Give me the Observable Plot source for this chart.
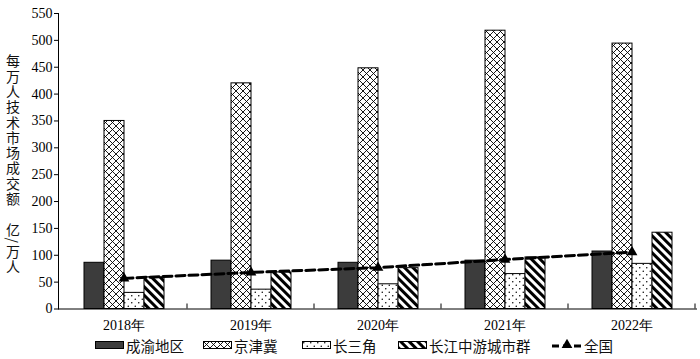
<!DOCTYPE html>
<html>
<head>
<meta charset="utf-8">
<script src="https://cdn.jsdelivr.net/npm/d3@7"></script>
<script src="https://cdn.jsdelivr.net/npm/@observablehq/plot@0.6"></script>
<style>
  html, body { margin: 0; padding: 0; background: white; }
  #wrap { position: relative; width: 700px; height: 359px; overflow: hidden; background: white; }
  #main, #over { position: absolute; left: 0; top: 0; }
  #ylabel { position: absolute; left: 5px; top: 54px; writing-mode: vertical-rl; font-family: "Noto Sans CJK SC"; font-size: 14px; letter-spacing: 1.3px; color: #111; line-height: 16px; }
  #legend { position: absolute; left: 0; top: 335px; width: 700px; height: 20px; font-family: "Noto Sans CJK SC"; font-size: 14.5px; color: #111; }
  .li { position: absolute; top: 0; height: 20px; display: flex; align-items: center; }
  .li svg { display: block; margin-right: 2px; }
</style>
</head>
<body>
<svg width="0" height="0" style="position:absolute">
  <defs>
    <pattern id="cross" width="7" height="7" patternUnits="userSpaceOnUse">
      <rect width="7" height="7" fill="white"/>
      <path d="M0,0L7,7M7,0L0,7" stroke="black" stroke-width="0.9"/>
    </pattern>
    <pattern id="dots" width="7" height="7" patternUnits="userSpaceOnUse">
      <rect width="7" height="7" fill="white"/>
      <circle cx="1.75" cy="1.75" r="0.75" fill="black"/>
      <circle cx="5.25" cy="5.25" r="0.75" fill="black"/>
    </pattern>
    <pattern id="hatch" width="6" height="6" patternUnits="userSpaceOnUse" patternTransform="rotate(-45)">
      <rect width="6" height="6" fill="white"/>
      <rect width="3" height="6" fill="black"/>
    </pattern>
  </defs>
</svg>
<div id="wrap">
  <div id="main"></div>
  <div id="over"></div>
  <div id="ylabel">每万人技术市场成交额　亿/万人</div>
  <div id="legend"></div>
</div>
<script>
const years = ["2018", "2019", "2020", "2021", "2022"];
const series = ["成渝地区", "京津冀", "长三角", "长江中游城市群"];
const chengyu = [86, 90, 86, 90, 107];
const jingjinji = [350, 420, 448, 518, 494];
const changsanjiao = [30, 36, 46, 65, 84];
const changjiang = [59, 68, 76, 96, 142];
const national = [57, 68, 77, 92, 106];
const nationalLabel = "全国";
const yTicks = [0, 50, 100, 150, 200, 250, 300, 350, 400, 450, 500, 550];
const fills = ["#3c3c3c", "url(#cross)", "url(#dots)", "url(#hatch)"];

const seriesValues = [chengyu, jingjinji, changsanjiao, changjiang];
const rows = [];
years.forEach((yr, i) => series.forEach((s, j) => rows.push({year: yr, series: s, value: seriesValues[j][i]})));
const nat = years.map((yr, i) => ({year: yr, value: national[i]}));

const W = 700, H = 335, mT = 13, mB = 26.5, mL = 58, mR = 3;

const main = Plot.plot({
  width: W, height: H, marginTop: mT, marginBottom: mB, marginLeft: mL, marginRight: mR,
  style: {background: "transparent"},
  fx: {domain: years, paddingInner: 0.36, paddingOuter: 0.18, axis: null, label: null},
  x: {domain: series, padding: 0, axis: null},
  y: {domain: [0, 550], axis: null},
  color: {domain: series, range: fills},
  marks: [
    Plot.barY(rows, {fx: "year", x: "series", y: "value", fill: "series", stroke: "black", strokeWidth: 1})
  ]
});
document.getElementById("main").appendChild(main);

const over = Plot.plot({
  width: W, height: H, marginTop: mT, marginBottom: mB, marginLeft: mL, marginRight: mR,
  style: {background: "transparent", fontFamily: "Liberation Serif", fontSize: "14px", color: "black"},
  x: {type: "band", domain: years, paddingInner: 0, paddingOuter: 0, tickSize: 0, tickPadding: 11, tickFormat: d => d + "年", label: null},
  y: {domain: [0, 550], ticks: yTicks, tickSize: 4, tickPadding: 2, label: null, line: true},
  marks: [
    Plot.ruleY([0], {stroke: "black", strokeWidth: 1}),
    Plot.line(nat, {x: "year", y: "value", stroke: "black", strokeWidth: 3, strokeDasharray: "9,4"}),
    Plot.dot(nat, {x: "year", y: "value", symbol: "triangle", r: 4, fill: "black", stroke: "none"})
  ]
});
document.getElementById("over").appendChild(over);

// small boundary ticks on the x axis, from the library's scales
const xs = over.scale("x"), ys = over.scale("y");
const y0 = ys.apply(0);
const g = d3.select(over).append("g").attr("stroke", "black").attr("stroke-width", 1);
years.forEach(yr => {
  const bx = xs.apply(yr) + xs.bandwidth;
  g.append("line").attr("x1", bx).attr("x2", bx).attr("y1", y0).attr("y2", y0 - 5);
});

// legend
const legend = d3.select("#legend");
const legendLeft = [95, 203, 302, 398];
series.forEach((s, j) => {
  const item = legend.append("div").attr("class", "li").style("left", legendLeft[j] + "px");
  const sv = item.append("svg").attr("width", 29).attr("height", 9);
  sv.append("rect").attr("x", 0.5).attr("y", 0.5).attr("width", 28).attr("height", 7)
    .attr("fill", fills[j]).attr("stroke", "black").attr("stroke-width", 1);
  item.append("span").text(s);
});
const li = legend.append("div").attr("class", "li").style("left", "552px");
const ls = li.append("svg").attr("width", 30).attr("height", 12);
ls.append("line").attr("x1", 0).attr("x2", 30).attr("y1", 7).attr("y2", 7)
  .attr("stroke", "black").attr("stroke-width", 3).attr("stroke-dasharray", "7,4");
ls.append("path").attr("d", d3.symbol(d3.symbolTriangle, 50)()).attr("transform", "translate(15,6)").attr("fill", "black");
li.append("span").text(nationalLabel);
</script>
</body>
</html>
